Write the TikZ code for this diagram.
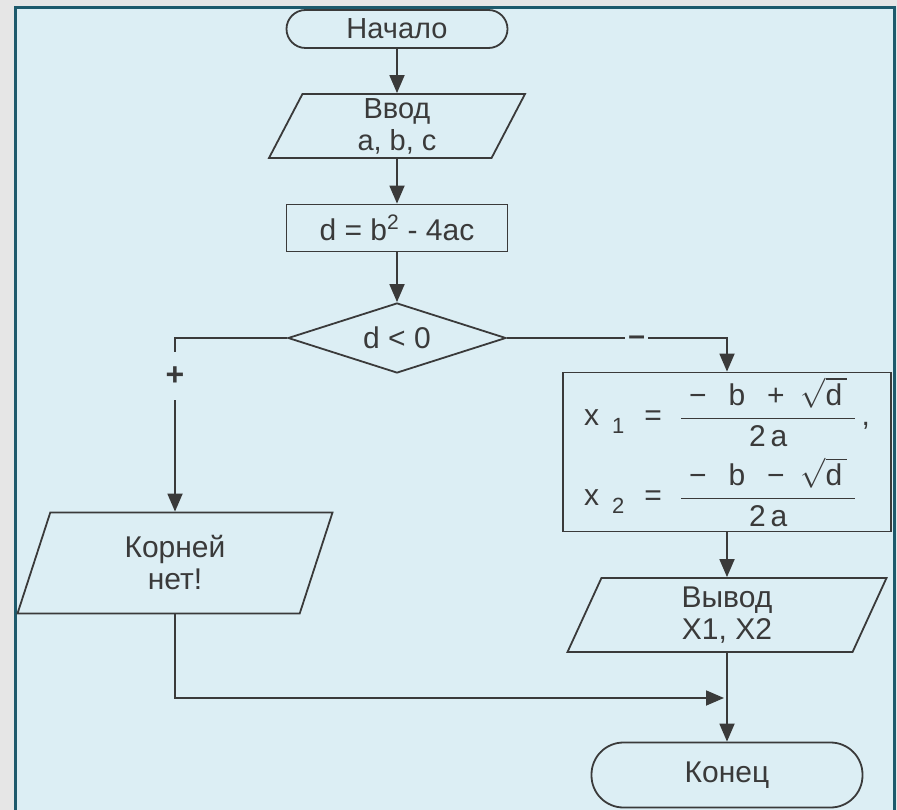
\RequirePackage{fix-cm}
\documentclass[tikz,border=0pt]{standalone}
\usepackage{amsmath}
\usepackage{fontspec}
\setmainfont{Liberation Sans}
\usetikzlibrary{shapes.geometric,arrows.meta}

\definecolor{panel}{HTML}{DCEEF4}
\definecolor{frame}{HTML}{1E5A6C}
\definecolor{outside}{HTML}{E6E6E6}
\definecolor{ink}{HTML}{3A3A3A}

\newcommand{\fsz}[1]{\fontsize{#1}{32}\selectfont}
\newcommand{\rootline}[2]{x\hspace{13pt}\raisebox{-8pt}{\fsz{22}#1}\hspace{20pt}=\hspace{18pt}$\dfrac{\text{\hspace{8pt}−\hspace{22pt}b\hspace{22pt}#2\hspace{16pt}}\sqrt{\text{d}\,}\hspace{8pt}}{\text{2\,a}}$}

\begin{document}
\begin{tikzpicture}[x=1pt,y=-1pt,
  line/.style={draw=ink, line width=1.8pt},
  arr/.style={line, -{Triangle[length=18pt,width=15pt]}},
  term/.style={line, rectangle, rounded corners=#1, inner sep=0pt, text=ink},
  io/.style={line, trapezium, trapezium left angle=59, trapezium right angle=121,
    trapezium stretches body, inner sep=0pt, text=ink, align=center},
  proc/.style={line, rectangle, inner sep=0pt, text=ink, align=center},
  cond/.style={line, diamond, aspect=3.1, inner sep=0pt, text=ink},
  sign/.style={fill=panel, text=ink, inner sep=0pt}]
\useasboundingbox (0,0) rectangle (897,810);
\fill[outside] (0,0) rectangle (897,810);
\draw[frame, fill=panel, line width=3pt] (15,8) rectangle (894,813);

% blocks
\node[term=19pt, minimum width=221pt, minimum height=38pt, font=\fsz{29}] (start) at (397,29) {Начало};
\node[io, minimum width=256pt, minimum height=64pt, font=\fsz{29}] (input) at (397,126) {Ввод\\a, b, c};
\node[proc, minimum width=221pt, minimum height=47pt, font=\fsz{30}] (calc) at (397,228) {d = b\textsuperscript{2} - 4ac};
\node[cond, minimum width=218pt, minimum height=70pt, font=\fsz{30}] (test) at (397,338) {d < 0};
\node[proc, minimum width=328pt, minimum height=159pt, align=left, font=\fsz{30}] (roots) at (727,452)
  {\rootline{1}{+}\,,\\[10pt]\rootline{2}{−}};
\node[io, minimum width=315pt, minimum height=101pt, font=\fsz{30}] (none) at (175,563) {Корней\\нет!};
\node[io, minimum width=319pt, minimum height=74pt, font=\fsz{30}] (output) at (727,615) {Вывод\\X1, X2};
\node[term=32pt, minimum width=271pt, minimum height=65pt, font=\fsz{30}] (stop) at (727,775) {Конец};
\coordinate (join) at (727,698);

% connectors
\draw[arr] (start) -- (input);
\draw[arr] (input) -- (calc);
\draw[arr] (calc) -- (test);
\draw[arr] (test.west) -| (none.north) node[sign, pos=0.61, minimum height=48pt, font=\bfseries\fsz{32}] {+};
\draw[arr] (test.east) -| (roots.north) node[sign, pos=0.295, minimum width=23pt, yshift=-3pt, font=\bfseries\fsz{30}] {–};
\draw[arr] (roots) -- (output);
\draw[line] (output) -- (join);
\draw[arr] (join) -- (stop);
\draw[arr, shorten >=3pt] (none.south) |- (join);
\end{tikzpicture}
\end{document}
